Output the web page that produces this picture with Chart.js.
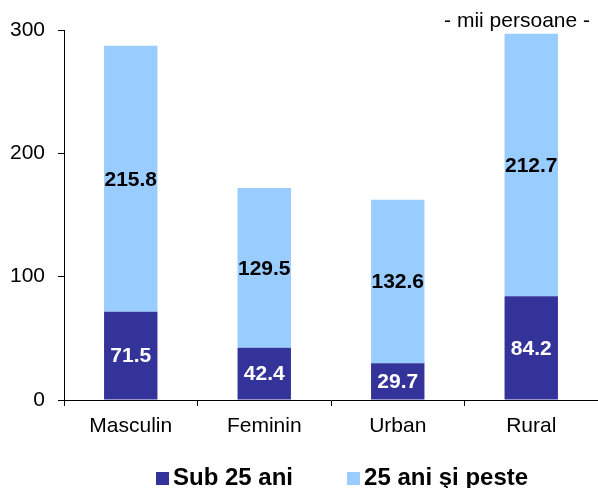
<!DOCTYPE html>
<html>
<head>
<meta charset="utf-8">
<script src="https://cdn.jsdelivr.net/npm/chart.js@4.4.0/dist/chart.umd.min.js"></script>
<style>
  html, body { margin: 0; padding: 0; background: #fff; }
  #wrap { width: 598px; height: 488px; }
</style>
</head>
<body>
<div id="wrap"><canvas id="bar-chart"></canvas></div>
<script>
var categories = ["Masculin", "Feminin", "Urban", "Rural"];
var sub25 = [71.5, 42.4, 29.7, 84.2];
var peste25 = [215.8, 129.5, 132.6, 212.7];
var seriesNames = ["Sub 25 ani", "25 ani şi peste"];
var yTicks = [0, 100, 200, 300];

var FONT = "'Liberation Sans', Arial, sans-serif";

// value labels inside the bars + unit note + legend
var labelsPlugin = {
	id: "labelsPlugin",
	afterDatasetsDraw: function (chart) {
		var ctx = chart.ctx;
		ctx.save();
		ctx.font = "bold 21px " + FONT;
		ctx.textAlign = "center";
		ctx.textBaseline = "middle";
		chart.data.datasets.forEach(function (ds, i) {
			var meta = chart.getDatasetMeta(i);
			meta.data.forEach(function (bar, j) {
				var p = bar.getCenterPoint();
				ctx.fillStyle = i == 0 ? "#ffffff" : "#000000";
				ctx.fillText(ds.data[j].toFixed(1), p.x, p.y + 1);
			});
		});
		ctx.restore();
	},
	afterDraw: function (chart) {
		var ctx = chart.ctx;
		var area = chart.chartArea;
		ctx.save();
		ctx.fillStyle = "#000";
		ctx.font = "21px " + FONT;
		ctx.textAlign = "right";
		ctx.textBaseline = "alphabetic";
		ctx.fillText("- mii persoane -", area.right - 8, area.top - 3);

		// legend
		ctx.font = "bold 24px " + FONT;
		ctx.textAlign = "left";
		var x = area.left + 92;
		var baseY = 485;
		chart.data.datasets.forEach(function (ds) {
			ctx.fillStyle = ds.backgroundColor;
			ctx.fillRect(x, baseY - 13, 13, 13);
			ctx.fillStyle = "#000";
			ctx.fillText(ds.label, x + 17, baseY);
			x += 17 + ctx.measureText(ds.label).width + 54;
		});
		ctx.restore();
	}
};

var ctx1 = document.getElementById("bar-chart");

var chart1 = new Chart(ctx1, {
	type: "bar",
	data: {
		labels: categories,
		datasets: [
			{
				label: seriesNames[0],
				data: sub25,
				backgroundColor: "#333399",
				barPercentage: 0.4,
				categoryPercentage: 1
			},
			{
				label: seriesNames[1],
				data: peste25,
				backgroundColor: "#99CCFF",
				barPercentage: 0.4,
				categoryPercentage: 1
			}
		]
	},
	options: {
		responsive: true,
		maintainAspectRatio: false,
		animation: false,
		layout: { padding: { top: 30, right: 0, left: 0, bottom: 0 } },
		plugins: {
			legend: { display: false },
			tooltip: { enabled: false }
		},
		scales: {
			x: {
				stacked: true,
				grid: { drawOnChartArea: false, drawTicks: true, tickLength: 6, color: "#000" },
				border: { color: "#000", width: 1 },
				ticks: { color: "#000", font: { family: FONT, size: 21 }, padding: 8 },
				afterFit: function (scale) { scale.height = 88; }
			},
			y: {
				stacked: true,
				min: 0,
				max: 300,
				afterBuildTicks: function (scale) {
					scale.ticks = yTicks.map(function (v) { return { value: v }; });
				},
				grid: { drawOnChartArea: false, drawTicks: true, tickLength: 6, color: "#000" },
				border: { color: "#000", width: 1 },
				ticks: { color: "#000", font: { family: FONT, size: 21 }, padding: 13 },
				afterFit: function (scale) { scale.width = 64; }
			}
		}
	},
	plugins: [labelsPlugin]
});
</script>
</body>
</html>
